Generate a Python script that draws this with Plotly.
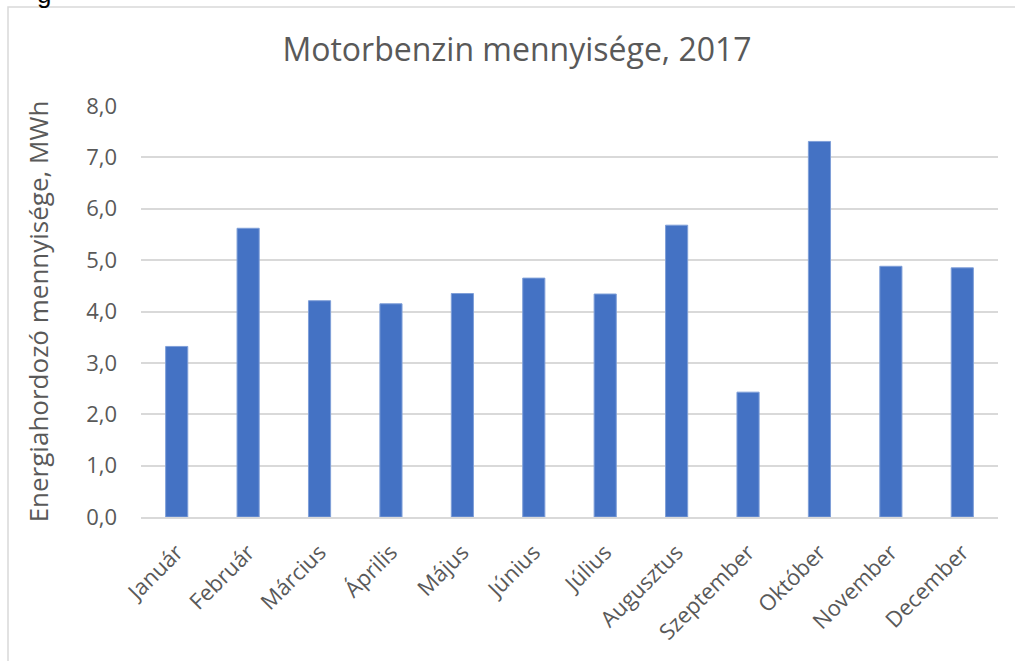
import plotly.graph_objects as go

months = ["Január", "Február", "Március", "Április", "Május", "Június",
          "Július", "Augusztus", "Szeptember", "Október", "November", "December"]
values = [3.32, 5.62, 4.21, 4.15, 4.35, 4.65, 4.34, 5.68, 2.43, 7.31, 4.88, 4.85]
y_ticks = [0, 1, 2, 3, 4, 5, 6, 7, 8]
y_tick_labels = ["0,0", "1,0", "2,0", "3,0", "4,0", "5,0", "6,0", "7,0", "8,0"]

W, H = 1015, 661
L, R, T, B = 141, 17, 106, 144
pw, ph = W - L - R, H - T - B

def px2paper_x(px):
    return (px - L) / pw

def px2paper_y(py):
    return 1 - (py - T) / ph

font_family = "Open Sans, Noto Sans, sans-serif"
gray = "#595959"

fig = go.Figure(go.Bar(
    x=months, y=values,
    marker=dict(color="#4472C4", line=dict(color="#7f9fd8", width=1)),
    width=0.31,
))

fig.update_layout(
    width=W, height=H,
    margin=dict(l=L, r=R, t=T, b=B),
    paper_bgcolor="white", plot_bgcolor="white",
    showlegend=False,
    title=dict(text="Motorbenzin mennyisége, 2017", x=517 / W, xref="container", xanchor="center",
               y=1 - 50 / H, yanchor="middle",
               font=dict(family=font_family, size=32, color=gray)),
    xaxis=dict(tickangle=-45, tickfont=dict(family=font_family, size=22, color=gray),
               showgrid=False, showline=True, linecolor="#D9D9D9", linewidth=1.5,
               ticks="", range=[-0.5, 11.5], ticklabelstandoff=12),
    yaxis=dict(range=[0, 8], tickvals=y_ticks, ticktext=y_tick_labels,
               tickfont=dict(family=font_family, size=22, color=gray),
               showgrid=True, gridcolor="#D9D9D9", gridwidth=1.5,
               zeroline=False, ticks="", ticklen=0, ticklabelstandoff=23,
               title=dict(text="Energiahordozó mennyisége, MWh", standoff=30,
                          font=dict(family=font_family, size=26, color=gray))),
    shapes=[dict(type="rect", xref="paper", yref="paper",
                 x0=px2paper_x(8), x1=px2paper_x(1025),
                 y0=px2paper_y(675), y1=px2paper_y(7),
                 line=dict(color="#D9D9D9", width=1.5), fillcolor="rgba(0,0,0,0)",
                 layer="below")],
    annotations=[dict(text="g", xref="paper", yref="paper",
                      x=px2paper_x(44), y=px2paper_y(-6), xanchor="center", yanchor="middle",
                      showarrow=False, font=dict(family="Liberation Sans", size=26, color="black"))],
)

fig.write_html("out.html", config={"displayModeBar": False},
               post_script="document.body.style.margin='0';")
